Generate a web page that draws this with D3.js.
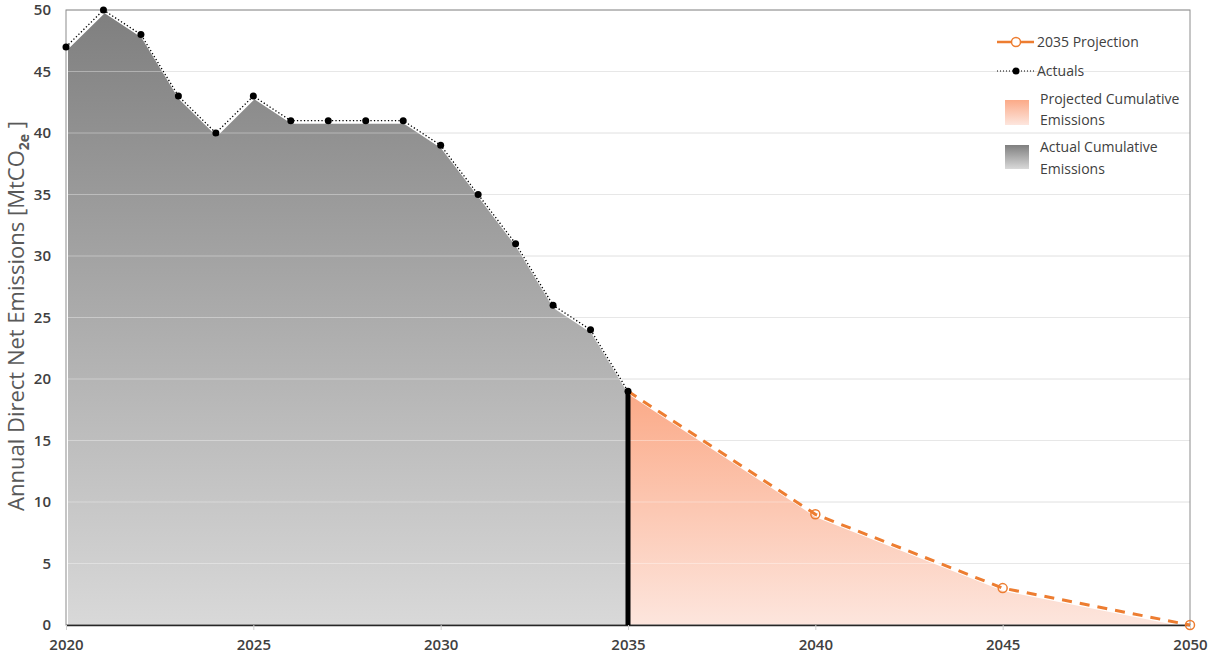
<!DOCTYPE html>
<html>
<head>
<meta charset="utf-8">
<script src="https://cdn.jsdelivr.net/npm/d3@7"></script>
<style>
  body { margin: 0; background: #fff; }
  svg text { font-family: "Open Sans", "DejaVu Sans", sans-serif; }
</style>
</head>
<body>
<svg id="chart"></svg>
<script>
// actual emissions, 2020-2035
const actualYears = [2020, 2021, 2022, 2023, 2024, 2025, 2026, 2027, 2028, 2029, 2030, 2031, 2032, 2033, 2034, 2035];
const actualValues = [47, 50, 48, 43, 40, 43, 41, 41, 41, 41, 39, 35, 31, 26, 24, 19];

// 2035 projection
const projYears = [2035, 2040, 2045, 2050];
const projValues = [19, 9, 3, 0];

const xTicks = [2020, 2025, 2030, 2035, 2040, 2045, 2050];
const yTicks = [0, 5, 10, 15, 20, 25, 30, 35, 40, 45, 50];

const width = 1208;
const height = 656;
const padL = 66, padR = 1190, padT = 10, padB = 625;

let svg = d3.select('#chart').attr('width', width).attr('height', height);

let xScale = d3.scaleLinear().domain([2020, 2050]).range([padL, padR]);
let yScale = d3.scaleLinear().domain([0, 50]).range([padB, padT]);

// gradients for the two areas
let defs = svg.append('defs');
let gGray = defs.append('linearGradient').attr('id', 'gray').attr('x1', 0).attr('y1', 0).attr('x2', 0).attr('y2', 1);
gGray.append('stop').attr('offset', '0%').attr('stop-color', '#7f7f7f');
gGray.append('stop').attr('offset', '100%').attr('stop-color', '#d9d9d9');
let gPink = defs.append('linearGradient').attr('id', 'pink').attr('x1', 0).attr('y1', 0).attr('x2', 0).attr('y2', 1);
gPink.append('stop').attr('offset', '0%').attr('stop-color', '#fbaa88');
gPink.append('stop').attr('offset', '100%').attr('stop-color', '#fde6de');

// gridlines
svg.append('g').selectAll('line').data(yTicks.filter((d) => d > 0)).enter().append('line')
  .attr('x1', padL).attr('x2', padR)
  .attr('y1', (d) => yScale(d)).attr('y2', (d) => yScale(d))
  .attr('stroke', '#dadada').attr('stroke-width', 1);

// areas (slightly lowered, with a white edge like the original)
let area = d3.area().x((d) => xScale(d[0])).y0(yScale(0)).y1((d) => yScale(d[1]));
svg.append('path')
  .datum(actualYears.map((y, i) => [y, actualValues[i]]))
  .attr('d', area)
  .attr('fill', 'url(#gray)')
  .attr('stroke', '#fff').attr('stroke-width', 2)
  .attr('transform', 'translate(1,2)');
svg.append('path')
  .datum(projYears.map((y, i) => [y, projValues[i]]))
  .attr('d', area)
  .attr('fill', 'url(#pink)')
  .attr('stroke', '#fff').attr('stroke-width', 2)
  .attr('transform', 'translate(1,2)');

// gridlines drawn faintly over the areas
svg.append('g').selectAll('line').data(yTicks.filter((d) => d > 0)).enter().append('line')
  .attr('x1', padL).attr('x2', padR)
  .attr('y1', (d) => yScale(d)).attr('y2', (d) => yScale(d))
  .attr('stroke', '#ffffff').attr('stroke-opacity', 0.35).attr('stroke-width', 1);

// frame
svg.append('rect').attr('x', padL).attr('y', padT).attr('width', padR - padL).attr('height', padB - padT)
  .attr('fill', 'none').attr('stroke', '#8c8c8c').attr('stroke-width', 1);

// x axis
let xAxis = d3.axisBottom(xScale).tickValues(xTicks).tickFormat(d3.format('d')).tickSize(5).tickSizeOuter(0);
let gx = svg.append('g').attr('transform', 'translate(0,' + padB + ')').call(xAxis);
gx.select('.domain').attr('stroke', '#262626').attr('stroke-width', 1.5);
gx.selectAll('.tick line').attr('stroke', '#d0d0d0');
gx.selectAll('.tick text').attr('y', 14).attr('dy', '0.71em')
  .attr('fill', '#404040').style('font-size', '15px').style('font-weight', 600);

// y axis
let yAxis = d3.axisLeft(yScale).tickValues(yTicks).tickSize(0);
let gy = svg.append('g').attr('transform', 'translate(' + padL + ',0)').call(yAxis);
gy.select('.domain').remove();
gy.selectAll('.tick text').attr('x', -15)
  .attr('fill', '#404040').style('font-size', '15px').style('font-weight', 600);

// cut-off line at 2035
svg.append('line')
  .attr('x1', xScale(2035)).attr('x2', xScale(2035))
  .attr('y1', yScale(19)).attr('y2', yScale(0))
  .attr('stroke', '#000').attr('stroke-width', 5);

// projection line
let line = d3.line().x((d) => xScale(d[0])).y((d) => yScale(d[1]));
svg.append('path')
  .datum(projYears.map((y, i) => [y, projValues[i]]))
  .attr('d', line)
  .attr('fill', 'none').attr('stroke', '#ed7d31').attr('stroke-width', 3).attr('stroke-dasharray', '10,8');
svg.append('g').selectAll('circle').data(projYears.slice(1)).enter().append('circle')
  .attr('cx', (d) => xScale(d))
  .attr('cy', (d, i) => yScale(projValues[i + 1]))
  .attr('r', 4.5)
  .attr('fill', 'none').attr('stroke', '#ed7d31').attr('stroke-width', 1.5);

// actuals line
svg.append('path')
  .datum(actualYears.map((y, i) => [y, actualValues[i]]))
  .attr('d', line)
  .attr('fill', 'none').attr('stroke', '#000').attr('stroke-width', 1.3).attr('stroke-dasharray', '1.3,2.2');
svg.append('g').selectAll('circle').data(actualYears).enter().append('circle')
  .attr('cx', (d) => xScale(d))
  .attr('cy', (d, i) => yScale(actualValues[i]))
  .attr('r', 3.5)
  .attr('fill', '#000');

// y axis title
let title = svg.append('text')
  .attr('transform', 'translate(24,' + 316 + ') rotate(-90)')
  .attr('text-anchor', 'middle')
  .attr('fill', '#595959')
  .style('font-size', '22px');
title.append('tspan').text('Annual Direct Net Emissions [MtCO');
title.append('tspan').text('2e').style('font-size', '14px').style('font-weight', 700).attr('dy', 5);
title.append('tspan').text(' ]').attr('dy', -5);

// legend
let legend = svg.append('g').style('font-size', '14px').attr('fill', '#404040');
legend.append('line').attr('x1', 997).attr('x2', 1034).attr('y1', 42).attr('y2', 42)
  .attr('stroke', '#ed7d31').attr('stroke-width', 2.5);
legend.append('circle').attr('cx', 1016).attr('cy', 42).attr('r', 4.5)
  .attr('fill', '#fff').attr('stroke', '#ed7d31').attr('stroke-width', 1.5);
legend.append('text').attr('x', 1037).attr('y', 47).text('2035 Projection');

legend.append('line').attr('x1', 997).attr('x2', 1034).attr('y1', 71).attr('y2', 71)
  .attr('stroke', '#000').attr('stroke-width', 1).attr('stroke-dasharray', '1,2');
legend.append('circle').attr('cx', 1016).attr('cy', 71).attr('r', 3.5).attr('fill', '#000');
legend.append('text').attr('x', 1037).attr('y', 76).text('Actuals');

legend.append('rect').attr('x', 1005).attr('y', 100).attr('width', 24).attr('height', 25).attr('fill', 'url(#pink)');
legend.append('text').attr('x', 1040).attr('y', 104).text('Projected Cumulative');
legend.append('text').attr('x', 1040).attr('y', 125).text('Emissions');

legend.append('rect').attr('x', 1005).attr('y', 145).attr('width', 24).attr('height', 24).attr('fill', 'url(#gray)');
legend.append('text').attr('x', 1040).attr('y', 152).text('Actual Cumulative');
legend.append('text').attr('x', 1040).attr('y', 174).text('Emissions');
</script>
</body>
</html>
